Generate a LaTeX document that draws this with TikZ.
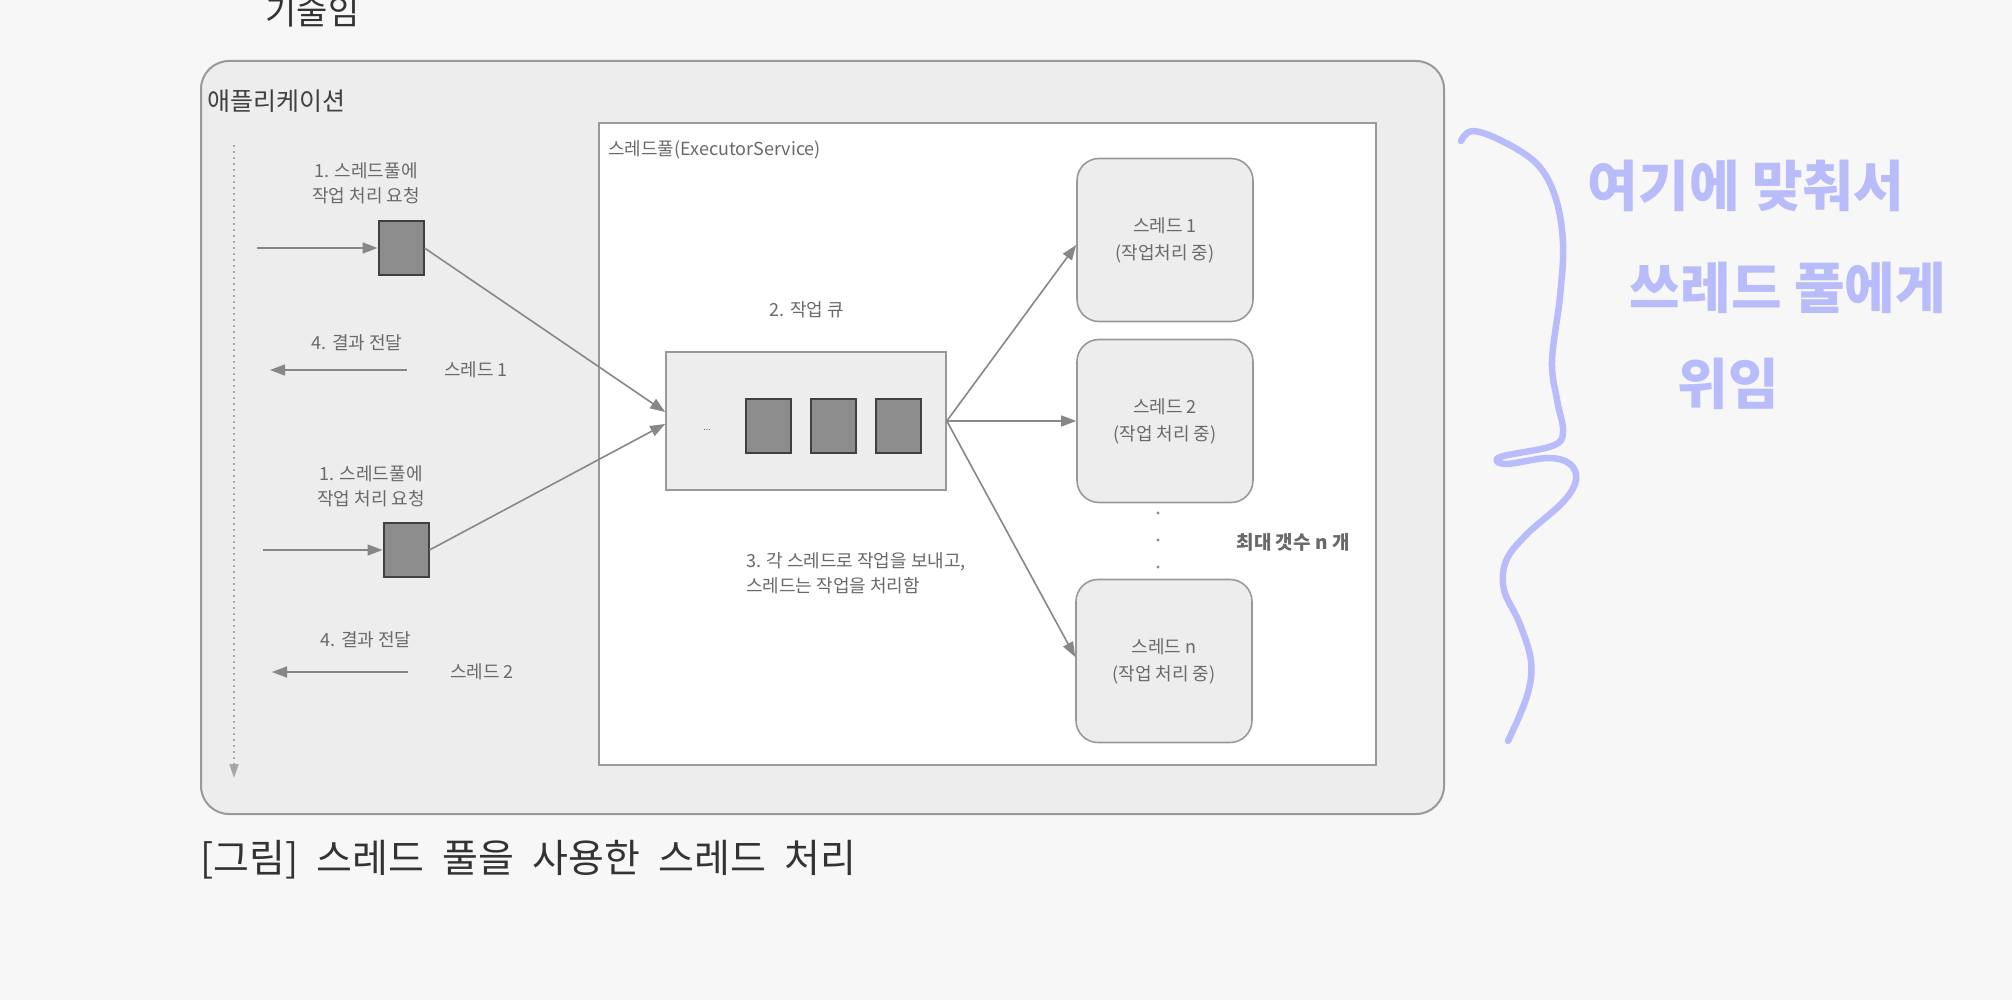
\documentclass[tikz,border=0pt]{standalone}
\usepackage{fontspec}
\setmainfont{Noto Sans CJK KR}
\newfontfamily\capfont[WordSpace=2.1]{Noto Sans CJK KR}
\usetikzlibrary{arrows.meta}

\definecolor{linegray}{RGB}{135,135,135}
\definecolor{textgray}{RGB}{105,105,105}
\definecolor{boxfill}{RGB}{237,237,237}
\definecolor{handcol}{RGB}{184,188,250}

\begin{document}
\begin{tikzpicture}[x=1pt,y=-1pt,
  lbl/.style={font=\fontsize{18}{25}\selectfont, text=textgray, align=center, inner sep=0pt},
  flow/.style={draw=linegray, line width=1.6pt, -{Triangle[length=15pt,width=11pt]}},
  task/.style={draw=black!75, fill=black!45, line width=2pt, minimum width=45pt, minimum height=54pt, inner sep=0pt},
  threadbox/.style={draw=black!40, fill=boxfill, line width=1.6pt, rounded corners=22pt,
    minimum width=176pt, minimum height=163pt, align=center, text=textgray,
    font=\fontsize{18}{27}\selectfont},
  hand/.style={font=\bfseries\fontsize{55}{66}\selectfont, text=handcol, inner sep=0pt}]

\useasboundingbox (0,0) rectangle (2012,1000);
\fill[white!97!black] (0,0) rectangle (2012,1000);

% the previous page text, cut at the top
\node[anchor=base west, font=\capfont\fontsize{34}{40}\selectfont, text=black!80] (prev) at (262,25) {기술임};

% application and thread pool
\node[draw=black!40, fill=boxfill, line width=2pt, rounded corners=28pt, inner sep=0pt,
  minimum width=1243pt, minimum height=753pt, anchor=north west] (app) at (200,60) {};
\node[anchor=west, font=\fontsize{25}{30}\selectfont, text=black!75, inner sep=0pt] (applabel) at (207,101) {애플리케이션};
\node[draw=black!40, fill=white, line width=1.6pt, inner sep=0pt,
  minimum width=777pt, minimum height=642pt, anchor=north west] (pool) at (598,122) {};
\node[lbl, anchor=west] (poollabel) at (608,150) {스레드풀(ExecutorService)};

% time line of the application
\coordinate (tl0) at (234,145);
\coordinate (tl1) at (234,778);
\draw[draw=black!35, line width=1.5pt, dash pattern=on 2pt off 4pt,
  -{Triangle[length=14pt,width=9pt]}] (tl0) -- (tl1);

% requests from the application
\node[task] (req1) at (401,248) {};
\node[task] (req2) at (406,550) {};
\node[lbl] (asklabel1) at (366,183) {1. 스레드풀에\\작업 처리 요청};
\node[lbl] (asklabel2) at (371,486) {1. 스레드풀에\\작업 처리 요청};
\coordinate (in1) at (257,248);
\coordinate (in2) at (263,550);
\draw[flow] (in1) -- (req1.west);
\draw[flow] (in2) -- (req2.west);

% results back to the application
\node[lbl] (donelabel1) at (357,343) {4. 결과 전달};
\node[lbl] (donelabel2) at (366,640) {4. 결과 전달};
\node[lbl] (worker1) at (476,370) {스레드 1};
\node[lbl] (worker2) at (482,672) {스레드 2};
\coordinate (back1a) at (407,370);
\coordinate (back1b) at (270,370);
\coordinate (back2a) at (408,672);
\coordinate (back2b) at (272,672);
\draw[flow] (back1a) -- (back1b);
\draw[flow] (back2a) -- (back2b);

% the work queue
\node[lbl] (queuelabel) at (807,310) {2. 작업 큐};
\node[draw=black!40, fill=boxfill, line width=1.6pt, minimum width=280pt, minimum height=138pt] (queue) at (806,421) {};
\node[font=\fontsize{9}{10}\selectfont, text=textgray, inner sep=0pt] (more) at (707,430) {...};
\foreach \x/\n in {768/q1, 833/q2, 898/q3}
  \node[task] (\n) at (\x,426) {};
\draw[flow] (req1.east) -- ([yshift=9pt]queue.west);
\draw[flow] (req2.east) -- ([yshift=-3pt]queue.west);

% worker threads
\node[threadbox] (thread1) at (1165,240) {스레드 1\\(작업처리 중)};
\node[threadbox] (thread2) at (1165,421) {스레드 2\\(작업 처리 중)};
\node[threadbox] (threadn) at (1164,661) {스레드 n\\(작업 처리 중)};
\draw[flow] (queue.east) -- ([yshift=-5pt]thread1.west);
\draw[flow] (queue.east) -- (thread2.west);
\draw[flow] (queue.east) -- ([yshift=4pt]threadn.west);
\foreach \y in {513, 540, 567}
  \fill[black!45] (1158,\y) circle[radius=1.6pt];
\node[lbl, font=\bfseries\fontsize{19}{22}\selectfont] (maxlabel) at (1293,542) {최대 갯수 n 개};
\node[lbl, align=left, anchor=north west] (sendlabel) at (746,552) {3. 각 스레드로 작업을 보내고,\\스레드는 작업을 처리함};

% caption
\node[anchor=west, font=\capfont\fontsize{39}{46}\selectfont, text=black!80, inner sep=0pt] (caption) at (200,860) {[그림] 스레드 풀을 사용한 스레드 처리};

% hand written note
\draw[handcol, line width=6.5pt, line cap=round, line join=round]
  plot[smooth, tension=0.6] coordinates {(1461,141) (1472,131) (1500,140) (1536,163) (1555,196)
  (1563,243) (1560,296) (1552,361) (1557,400) (1563,432) (1552,446) (1500,457) (1506,464)
  (1548,458) (1570,464) (1576,480) (1563,502) (1526,535) (1506,561) (1504,590) (1519,622)
  (1531,661) (1527,696) (1508,741)};
\node[hand] (note1) at (1746,186) {여기에 맞춰서};
\node[hand] (note2) at (1788,288) {쓰레드 풀에게};
\node[hand] (note3) at (1728,384) {위임};

\end{tikzpicture}
\end{document}
